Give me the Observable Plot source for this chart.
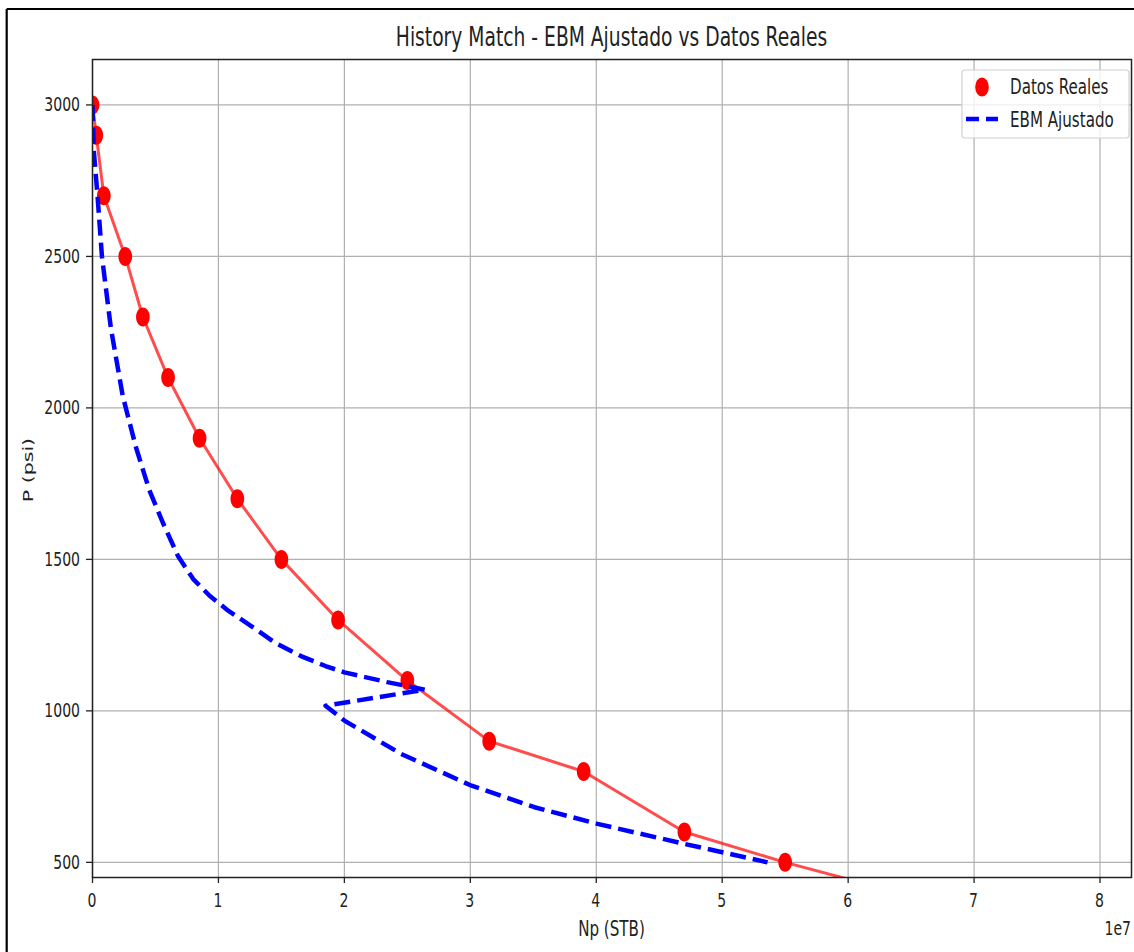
<!DOCTYPE html>
<html>
<head>
<meta charset="utf-8">
<script src="https://cdn.jsdelivr.net/npm/d3@7"></script>
<script src="https://cdn.jsdelivr.net/npm/@observablehq/plot@0.6"></script>
<style>
  html, body { margin: 0; padding: 0; background: #fff; }
  #chart { position: relative; width: 1134px; height: 952px; overflow: hidden; }
  svg { font-family: "DejaVu Sans", sans-serif; }
</style>
</head>
<body>
<div id="chart"></div>
<script>
// ---- Data ----
const npReal = [0, 0.3e6, 0.9e6, 2.6e6, 4.0e6, 6.0e6, 8.5e6, 11.5e6, 15.0e6, 19.5e6, 25.0e6, 31.5e6, 39.0e6, 47.0e6, 55.0e6, 64.0e6];
const pReal  = [3000, 2900, 2700, 2500, 2300, 2100, 1900, 1700, 1500, 1300, 1100, 900, 800, 600, 500, 400];

const npEbm = [0, 0.1e6, 0.4e6, 0.75e6, 1.47e6, 2.4e6, 3.45e6, 4.5e6, 5.6e6, 6.8e6, 8.0e6, 9.3e6, 10.8e6, 12.6e6, 14.5e6, 16.6e6, 18.5e6, 20.0e6, 23.4e6, 26.4e6, 18.5e6, 20.0e6, 24.5e6, 30.1e6, 35.1e6, 40.1e6, 47.0e6, 53.6e6];
const pEbm  = [3000, 2850, 2700, 2500, 2260, 2040, 1870, 1730, 1620, 1510, 1435, 1380, 1330, 1280, 1225, 1180, 1148, 1127, 1095, 1070, 1017, 968, 858, 753, 682, 627, 561, 500];

const xTicks = [0, 1e7, 2e7, 3e7, 4e7, 5e7, 6e7, 7e7, 8e7];
const yTicks = [500, 1000, 1500, 2000, 2500, 3000];

const titleText = "History Match - EBM Ajustado vs Datos Reales";
const xLabel = "Np (STB)";
const yLabel = "P (psi)";
const offsetText = "1e7";
const legendNames = ["Datos Reales", "EBM Ajustado"];

// ---- Tables built from the arrays ----
const real = npReal.map((x, i) => ({np: x, p: pReal[i]}));
const ebm = npEbm.map((x, i) => ({np: x, p: pEbm[i]}));

const SX = 0.72; // horizontal squeeze seen in the reference

const ellipse = {
  draw(ctx, size) {
    const r = Math.sqrt(size / Math.PI);
    const rx = r * SX, ry = r, k = 0.5523;
    ctx.moveTo(rx, 0);
    ctx.bezierCurveTo(rx, ry * k, rx * k, ry, 0, ry);
    ctx.bezierCurveTo(-rx * k, ry, -rx, ry * k, -rx, 0);
    ctx.bezierCurveTo(-rx, -ry * k, -rx * k, -ry, 0, -ry);
    ctx.bezierCurveTo(rx * k, -ry, rx, -ry * k, rx, 0);
    ctx.closePath();
  }
};

const svg = Plot.plot({
  width: 1134,
  height: 952,
  marginLeft: 92,
  marginRight: 3,
  marginTop: 59,
  marginBottom: 75,
  style: {fontFamily: "DejaVu Sans, sans-serif", fontSize: "19.5px", color: "#222", background: "#fff"},
  x: {domain: [0, 8.25e7], label: null},
  y: {domain: [450, 3150], label: null},
  marks: [
    Plot.gridX(xTicks, {stroke: "#b0b0b0", strokeOpacity: 1, strokeWidth: 1.2}),
    Plot.gridY(yTicks, {stroke: "#b0b0b0", strokeOpacity: 1, strokeWidth: 1.2}),
    Plot.axisX({ticks: xTicks, tickSize: 6, fill: "none", stroke: "#222", strokeWidth: 1.3, label: null}),
    Plot.axisY({ticks: yTicks, tickSize: 6, fill: "none", stroke: "#222", strokeWidth: 1.3, label: null}),
    Plot.line(real, {x: "np", y: "p", stroke: "#ff0000", strokeOpacity: 0.7, strokeWidth: 3, clip: true}),
    Plot.dot(real, {x: "np", y: "p", r: 9.5, symbol: ellipse, fill: "#ff0000", stroke: "none", clip: true}),
    Plot.line(ebm, {x: "np", y: "p", stroke: "#0000ff", strokeWidth: 4.5, strokeDasharray: "16,7", strokeLinecap: "butt", clip: true}),
    Plot.frame({stroke: "#222", strokeWidth: 1.5})
  ]
});

const sx = svg.scale("x"), sy = svg.scale("y");
const s = d3.select(svg);

// outer screenshot frame (top & left edges)
s.append("line").attr("x1", 6.7).attr("y1", 9).attr("x2", 1134).attr("y2", 9).attr("stroke", "#000").attr("stroke-width", 2.2);
s.append("line").attr("x1", 6.7).attr("y1", 9).attr("x2", 6.7).attr("y2", 952).attr("stroke", "#000").attr("stroke-width", 2.2);

function squeezedText(x, y, txt, size, anchor) {
  return s.append("text")
    .attr("transform", `translate(${x},${y}) scale(${SX},1)`)
    .attr("text-anchor", anchor)
    .attr("dominant-baseline", "central")
    .attr("font-size", size)
    .attr("fill", "#222")
    .text(txt);
}
// tick labels placed with Plot's scales
xTicks.forEach(v => squeezedText(sx.apply(v), 900, String(v / 1e7), 19.5, "middle"));
yTicks.forEach(v => squeezedText(80, sy.apply(v), String(v), 19.5, "end"));

squeezedText(611.5, 37, titleText, 26, "middle");
squeezedText(611.5, 929, xLabel, 21, "middle");
squeezedText(1131, 928, offsetText, 19.5, "end");
// y label rotated: glyph height squeezed along screen x
s.append("text")
  .attr("transform", `translate(28,470) rotate(-90) scale(1,${SX})`)
  .attr("text-anchor", "middle")
  .attr("dominant-baseline", "central")
  .attr("font-size", 20.5)
  .attr("fill", "#222")
  .text(yLabel);

// legend
const lg = s.append("g");
lg.append("rect").attr("x", 962).attr("y", 70).attr("width", 167).attr("height", 68).attr("rx", 3)
  .attr("fill", "#fff").attr("fill-opacity", 0.8).attr("stroke", "#d0d0d0").attr("stroke-width", 1.2);
lg.append("ellipse").attr("cx", 982).attr("cy", 87).attr("rx", 6.8).attr("ry", 9.5).attr("fill", "#ff0000");
lg.append("line").attr("x1", 966).attr("x2", 998).attr("y1", 119).attr("y2", 119)
  .attr("stroke", "#0000ff").attr("stroke-width", 4.5).attr("stroke-dasharray", "13,7");
squeezedText(1010, 87, legendNames[0], 21, "start");
squeezedText(1010, 119.5, legendNames[1], 21, "start");

document.getElementById("chart").appendChild(svg);
</script>
</body>
</html>
